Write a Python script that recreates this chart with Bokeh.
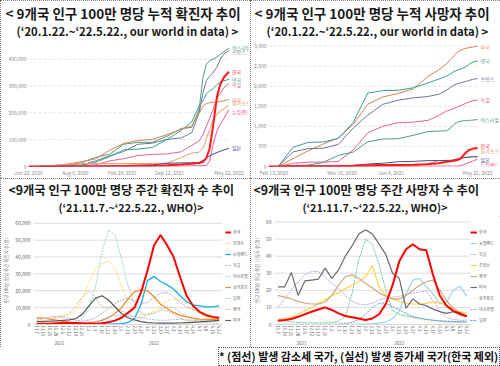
import pandas as pd
from bokeh.plotting import figure
from bokeh.models import (Title, Label, FixedTicker, NumeralTickFormatter, Legend,
                          LegendItem, Range1d, Div, Spacer, ColumnDataSource, LinearAxis)
from bokeh.layouts import column, row
from bokeh.embed import file_html
from bokeh.resources import INLINE

FONT = "Noto Sans CJK KR"

# ---------------- cumulative data (our world in data) ----------------
cum_dates = ["2020-01-22", "2020-03-01", "2020-05-01", "2020-07-01", "2020-09-01", "2020-11-01",
             "2021-01-01", "2021-03-01", "2021-05-01", "2021-07-01", "2021-09-01", "2021-11-01",
             "2021-12-15", "2022-01-15", "2022-02-01", "2022-02-15", "2022-03-01", "2022-03-15",
             "2022-04-01", "2022-04-15", "2022-05-01", "2022-05-22"]

cases_israel = [0, 1, 1800, 2700, 13000, 34000, 46000, 83000, 90000, 90500, 113000, 142000,
                145500, 212000, 333000, 381000, 395000, 400000, 408000, 418000, 428000, 442000]
cases_france = [0, 2, 2500, 3000, 4500, 21000, 40000, 56000, 83000, 87000, 101000, 107000,
                126000, 200000, 275000, 320000, 337000, 349000, 371000, 400000, 420000, 432000]
cases_korea = [0, 70, 210, 250, 390, 520, 1200, 1750, 2350, 3050, 4800, 7100,
               10500, 13200, 17000, 31000, 68000, 147000, 260000, 306000, 333000, 354000]
cases_uk = [0, 1, 2700, 4200, 5000, 15000, 37000, 62000, 65000, 71000, 101000, 135000,
            166000, 224000, 246000, 271000, 282000, 290000, 305000, 315000, 320000, 325000]
cases_germany = [0, 2, 2000, 2300, 2900, 6400, 21000, 29000, 41000, 45000, 47000, 55000,
                 79000, 95000, 118000, 151000, 180000, 210000, 252000, 273000, 295000, 310000]
cases_us = [0, 0, 3300, 8100, 18000, 28000, 61000, 86000, 97000, 101000, 119000, 139000,
            152000, 198000, 226000, 235000, 238000, 240000, 241000, 243000, 245000, 250000]
cases_singapore = [0, 19, 3100, 8000, 10400, 10600, 10700, 11000, 11200, 11500, 12500, 34000,
                   50000, 53000, 69000, 104000, 138000, 171000, 196000, 207000, 216000, 228000]
cases_nz = [0, 0, 290, 300, 340, 380, 420, 470, 520, 560, 600, 1100,
            2300, 2900, 3200, 4000, 20000, 80000, 133000, 157000, 180000, 212000]
cases_japan = [0, 2, 115, 150, 540, 800, 1900, 3400, 4700, 6300, 11900, 13700,
               13800, 15000, 23000, 32000, 39000, 46000, 52000, 57000, 62000, 68000]

deaths_us = [0, 0, 196, 390, 560, 710, 1055, 1550, 1730, 1820, 1930, 2245,
             2410, 2560, 2660, 2760, 2850, 2900, 2940, 2960, 2975, 3000]
deaths_uk = [0, 0, 480, 600, 610, 700, 1100, 1830, 1890, 1900, 1960, 2080,
             2180, 2250, 2310, 2370, 2400, 2430, 2470, 2540, 2600, 2630]
deaths_france = [0, 0, 365, 445, 455, 550, 960, 1280, 1550, 1650, 1710, 1745,
                 1800, 1900, 1975, 2030, 2065, 2090, 2115, 2140, 2170, 2190]
deaths_germany = [0, 0, 80, 108, 112, 126, 410, 840, 1000, 1090, 1105, 1150,
                  1270, 1380, 1415, 1450, 1485, 1515, 1570, 1605, 1635, 1660]
deaths_israel = [0, 0, 24, 35, 102, 275, 360, 615, 685, 690, 775, 870,
                 885, 890, 955, 1050, 1105, 1130, 1140, 1148, 1155, 1170]
deaths_korea = [0, 0.3, 5, 5.5, 6.3, 9, 17, 31, 35, 39, 45, 55,
                82, 120, 131, 142, 160, 205, 325, 405, 440, 462]
deaths_singapore = [0, 0, 3, 4.5, 5, 5, 5, 5, 5.5, 6.5, 10, 73,
                    147, 154, 156, 170, 193, 216, 229, 237, 242, 246]
deaths_japan = [0, 0, 4, 8, 10, 14, 27, 62, 81, 118, 127, 146,
                147, 147, 151, 163, 187, 207, 224, 232, 240, 245]
deaths_nz = [0, 0, 4, 4.4, 4.5, 5, 5, 5, 5, 5, 5.3, 5.9,
             8, 10, 10, 10, 11, 22, 60, 95, 130, 185]

cases_tick_dates = ["2020-01-22", "2020-08-08", "2021-02-24", "2021-09-12", "2022-05-22"]
cases_tick_labels = ["Jan 22, 2020", "Aug 8, 2020", "Feb 24, 2021", "Sep 12, 2021", "May 22, 2022"]
deaths_tick_dates = ["2020-02-13", "2020-11-16", "2021-06-04", "2022-05-22"]
deaths_tick_labels = ["Feb 13, 2020", "Nov 16, 2020", "Jun 4, 2021", "May 22, 2022"]
cases_yticks = [0, 100000, 200000, 300000, 400000]
deaths_yticks = [0, 500, 1000, 1500, 2000, 2500, 3000]

# ---------------- weekly data (WHO) ----------------
week_years = ["2021"] * 8 + ["2022"] * 21
week_labels = ["11.7", "11.14", "11.21", "11.28", "12.5", "12.12", "12.19", "12.26",
               "1.2", "1.9", "1.16", "1.23", "1.30", "2.6", "2.13", "2.20", "2.27",
               "3.6", "3.13", "3.20", "3.27", "4.3", "4.10", "4.17", "4.24",
               "5.1", "5.8", "5.15", "5.22"]

wc_korea = [300, 400, 500, 700, 900, 1000, 900, 700, 600, 500, 700, 1300, 2300, 4000, 7000,
            10000, 19000, 32000, 47000, 53000, 47000, 40000, 28000, 17000, 11000, 7500, 5500, 4500, 4000]
wc_france = [1000, 1500, 2800, 4500, 5500, 5700, 8000, 15000, 25000, 33000, 36000, 37500, 33000,
             23000, 14000, 9000, 6000, 6000, 8000, 11000, 14000, 15000, 14500, 12500, 9000, 6500,
             4500, 3500, 3000]
wc_nz = [200, 200, 200, 200, 200, 150, 100, 100, 100, 100, 150, 200, 300, 400, 1200, 3500,
         12000, 26000, 28500, 25500, 23500, 21000, 17000, 13500, 11500, 11000, 10500, 10500, 11000]
wc_germany = [2500, 3500, 4500, 5000, 4500, 3500, 2500, 2000, 2500, 4000, 6500, 9500, 12500,
              14500, 15500, 14000, 12500, 13000, 16000, 18500, 19000, 16500, 13000, 10500, 9000,
              7000, 5500, 4500, 3500]
wc_israel = [500, 400, 350, 400, 500, 700, 1200, 3500, 9000, 22000, 43000, 56000, 53000, 39000,
             23000, 12000, 7000, 5500, 6500, 9000, 10500, 10000, 7500, 5000, 3500, 2500, 2500,
             3000, 3500]
wc_singapore = [4000, 3800, 3200, 2600, 1900, 1300, 900, 800, 1000, 1500, 2500, 4000, 6500,
                10000, 15000, 19500, 20500, 20000, 16500, 12000, 9500, 7000, 5500, 4500, 3800,
                3200, 3000, 3000, 3200]
wc_japan = [50, 50, 50, 50, 50, 50, 100, 150, 300, 1200, 3000, 4500, 5200, 5500, 5000, 4300,
            3800, 3300, 2800, 2500, 2600, 2900, 3000, 2800, 2500, 2200, 2000, 1900, 1600]
wc_uk = [3700, 3600, 3700, 3800, 4500, 6500, 11000, 16500, 20000, 16000, 10500, 10000, 10000,
         8000, 6000, 4500, 4000, 5500, 7000, 8500, 8000, 6000, 3500, 2500, 2000, 1500, 1000, 800, 700]
wc_us = [1700, 1900, 2000, 2200, 2500, 2700, 3500, 6000, 11000, 15500, 17000, 14500, 10500, 6500,
         4000, 2700, 1700, 1100, 900, 800, 800, 800, 900, 1100, 1300, 1500, 1800, 2200, 2500]

wd_korea = [2.2, 2.6, 3.2, 4.5, 6, 7.5, 8.8, 10, 8.5, 6.5, 5, 4.3, 3.5, 2.6, 3.5, 6, 12, 23, 37,
            44, 47, 44, 43.5, 29, 17, 11, 8, 6, 4.8]
wd_nz = [0, 0, 0, 0, 0, 0, 0, 0, 0, 0, 0, 0, 0.2, 0.3, 0.5, 0.8, 1.5, 3.5, 8, 18, 26, 27, 22, 18,
         12, 13, 20, 22.5, 16.5]
wd_germany = [10, 15, 20, 25, 29, 31, 31, 28, 24, 21, 17, 13.5, 12, 11.5, 12.5, 14.5, 15.5, 16,
              16.5, 17.5, 18.5, 19, 19.5, 14, 8, 4, 3, 2.5, 2.5]
wd_france = [3, 3.5, 4.5, 6, 8, 10, 12.5, 14.5, 17, 18.5, 21, 23, 25, 28, 34.5, 22, 17, 15, 13.5,
             12.5, 12, 12, 12.5, 13, 13, 11, 9.5, 7.5, 6.5]
wd_uk = [17, 16, 15, 13.5, 12.5, 12, 12, 13, 17, 23, 28, 29, 27, 24, 21.5, 18.5, 16.5, 15, 15,
         17, 20, 23, 25, 26, 20, 14, 9.5, 6.5, 4.5]
wd_us = [22, 22, 30.5, 17, 25.5, 26, 26.5, 33, 27, 32, 40, 46, 53, 55.5, 53, 47, 41, 30, 27, 9.5,
         15, 12, 11, 9, 7.5, 6.5, 7.5, 7, 5]
wd_singapore = [19, 17, 15, 12, 9, 6, 4, 2.5, 1.5, 1, 1, 1, 1.5, 2.5, 3.5, 4.5, 5.5, 6, 5.5, 5,
                4, 3, 2, 1.5, 1, 1, 1, 1, 1]
wd_israel = [2.5, 2, 1.5, 1.2, 1, 1, 1, 1, 1, 2, 5, 18, 38, 50, 47, 35, 20, 8, 6, 5, 4.5, 4, 3,
             2.5, 2, 1.5, 1.5, 1.5, 1.5]
wd_japan = [0.1, 0.1, 0.1, 0.1, 0.1, 0.1, 0.1, 0.1, 0.1, 0.2, 0.5, 1.2, 3, 6, 10, 12.5, 12.5,
            10.5, 8.5, 6.5, 4.5, 3.5, 3, 2.5, 2.2, 2, 1.8, 1.6, 1.5]

weekly_cases_yticks = [0, 10000, 20000, 30000, 40000, 50000, 60000]
weekly_deaths_yticks = [0, 10, 20, 30, 40, 50, 60]

# ---------------- styling ----------------
BORDER = {"outline": "1px dotted #555555", "outline-offset": "-1px"}
PW = 250          # panel width
TOP_H = 178       # top row height
BOT_H = 169       # bottom row height
NOTE_H = 19       # footnote row height


def ms(d):
    return pd.Timestamp(d).value / 1e6


def no_ticks(ax):
    ax.major_tick_line_color = None
    ax.minor_tick_line_color = None
    ax.major_tick_out = 0
    ax.major_tick_in = 0
    ax.minor_tick_out = 0
    ax.minor_tick_in = 0


def add_titles(p, t1, t2, size1, size2, off1, off2):
    p.title.text = t1
    p.title.align = "left"
    p.title.offset = off1
    p.title.vertical_align = "bottom"
    p.title.text_font = FONT
    p.title.text_font_size = size1
    p.title.text_font_style = "bold"
    p.title.text_color = "#1a1a1a"
    p.title.text_line_height = 0.8
    p.title.standoff = 0
    p.add_layout(Title(text=t2, align="left", offset=off2, vertical_align="top", text_font=FONT,
                       text_font_size=size2, text_font_style="bold", text_color="#1a1a1a",
                       text_line_height=0.8, standoff=0), "above")


def top_panel(t1, t2, series, yend, yticks, tick_dates, tick_labels, min_left, min_bottom,
              pad_days, off1, off2):
    xs = pd.to_datetime(cum_dates)
    x_end = pd.Timestamp(cum_dates[-1]) + pd.Timedelta(days=pad_days)
    p = figure(width=PW, height=TOP_H, x_axis_type="datetime",
               x_range=Range1d(ms(cum_dates[0]), x_end.value / 1e6),
               y_range=Range1d(0, yend), output_backend="svg", toolbar_location=None,
               min_border_left=min_left, min_border_right=2, min_border_top=0,
               min_border_bottom=min_bottom)
    add_titles(p, t1, t2, "13.5px", "11.3px", off1, off2)
    p.styles = BORDER
    p.outline_line_color = None
    p.xgrid.grid_line_color = None
    p.ygrid.grid_line_color = None
    n = len(yticks)
    p.segment(x0=[xs[0]] * n, x1=[xs[-1]] * n, y0=yticks, y1=yticks,
              line_color="#e3e3e3", line_dash="3 2", line_width=1)
    p.yaxis.ticker = FixedTicker(ticks=yticks)
    p.yaxis.formatter = NumeralTickFormatter(format="0,0")
    p.xaxis.ticker = FixedTicker(ticks=[ms(d) for d in tick_dates])
    p.xaxis.major_label_overrides = {ms(d): lab for d, lab in zip(tick_dates, tick_labels)}
    for ax in (p.xaxis[0], p.yaxis[0]):
        ax.axis_line_color = None
        no_ticks(ax)
        ax.major_label_text_font = FONT
        ax.major_label_text_font_size = "5px"
        ax.major_label_text_color = "#8a8a8a"
        ax.major_label_standoff = 2
    for name, vals, color, width, off in series:
        p.line(xs, vals, line_color=color, line_width=width)
        p.add_layout(Label(x=ms(cum_dates[-1]), y=vals[-1], x_offset=3, y_offset=off, text=name,
                           text_font=FONT, text_font_size="5px", text_color=color,
                           text_baseline="middle"))
    return p


C_IL, C_FR, C_KR, C_UK = "#4f9e72", "#6b7896", "#ff1a1a", "#3a9e94"
C_DE, C_US, C_SG, C_NZ, C_JP = "#e0609a", "#d4825c", "#e59a6a", "#f2568f", "#3f4f86"

p1 = top_panel("< 9개국 인구 100만 명당 누적 확진자 추이",
               "(‘20.1.22.~‘22.5.22., our world in data) >",
               [("이스라엘", cases_israel, C_IL, 1, 1),
                ("프랑스", cases_france, C_FR, 1, -1),
                ("영국", cases_uk, C_UK, 1, 0),
                ("독일", cases_germany, C_DE, 1, -1),
                ("미국", cases_us, C_US, 1, 0),
                ("싱가포르", cases_singapore, C_SG, 1, 3),
                ("뉴질랜드", cases_nz, C_NZ, 1, -2),
                ("일본", cases_japan, C_JP, 1, 1),
                ("한국", cases_korea, C_KR, 2, 0)],
               470000, cases_yticks, cases_tick_dates, cases_tick_labels, 28, 11, 83, -23, -12)

p2 = top_panel("< 9개국 인구 100만 명당 누적 사망자 추이",
               "(‘20.1.22.~‘22.5.22., our world in data) >",
               [("미국", deaths_us, C_US, 1, 0),
                ("영국", deaths_uk, C_UK, 1, 0),
                ("프랑스", deaths_france, C_FR, 1, 0),
                ("독일", deaths_germany, C_DE, 1, 0),
                ("이스라엘", deaths_israel, C_IL, 1, 0),
                ("싱가포르", deaths_singapore, C_SG, 1, 6),
                ("일본", deaths_japan, C_JP, 1, -3),
                ("뉴질랜드", deaths_nz, C_NZ, 1, -5),
                ("한국", deaths_korea, C_KR, 2, 2)],
               3140, deaths_yticks, deaths_tick_dates, deaths_tick_labels, 18, 10, 85, -14, -2)


def bottom_panel(t1, t2, series, yend, yticks, ylabel, min_left, pad_units, leg_x, leg_y,
                 glyph_w, off1, off2):
    idx = list(range(len(week_labels)))
    n = len(idx)
    p = figure(width=PW, height=BOT_H,
               x_range=Range1d(-0.5, n - 0.5 + pad_units),
               y_range=Range1d(0, yend), output_backend="svg", toolbar_location=None,
               min_border_left=min_left, min_border_right=0, min_border_top=0,
               min_border_bottom=0)
    add_titles(p, t1, t2, "12.3px", "10.8px", off1, off2)
    p.styles = BORDER
    p.outline_line_color = None
    p.xgrid.grid_line_color = None
    p.ygrid.grid_line_color = None
    m = len(yticks)
    p.segment(x0=[idx[0] - 0.5] * m, x1=[idx[-1] + 0.5] * m, y0=yticks, y1=yticks,
              line_color="#dcdcdc", line_width=1)
    ya = p.yaxis[0]
    ya.ticker = FixedTicker(ticks=yticks)
    ya.formatter = NumeralTickFormatter(format="0,0")
    ya.axis_line_color = None
    no_ticks(ya)
    ya.major_label_text_font = FONT
    ya.major_label_text_font_size = "5px"
    ya.major_label_text_color = "#666666"
    ya.major_label_standoff = 3
    ya.axis_label = ylabel
    ya.axis_label_text_font = FONT
    ya.axis_label_text_font_size = "4.5px"
    ya.axis_label_text_font_style = "normal"
    ya.axis_label_text_color = "#777777"
    ya.axis_label_standoff = 3
    xa = p.xaxis[0]
    xa.ticker = FixedTicker(ticks=idx)
    xa.major_label_overrides = {i: lab for i, lab in zip(idx, week_labels)}
    xa.bounds = (idx[0] - 0.5, idx[-1] + 0.5)
    xa.axis_line_color = "#d9d9d9"
    no_ticks(xa)
    xa.axis_label_standoff = 0
    xa.major_label_orientation = "vertical"
    xa.major_label_text_font = FONT
    xa.major_label_text_font_size = "4.3px"
    xa.major_label_text_color = "#666666"
    xa.major_label_text_line_height = 0.8
    xa.major_label_standoff = 1
    # year group labels
    groups = []
    for y in week_years:
        if y not in groups:
            groups.append(y)
    centers = []
    for g in groups:
        pos = [i for i, y in zip(idx, week_years) if y == g]
        centers.append(sum(pos) / len(pos))
    yr = LinearAxis(ticker=FixedTicker(ticks=centers),
                    major_label_overrides={c: g for c, g in zip(centers, groups)},
                    axis_line_color=None, major_label_text_font=FONT,
                    major_label_text_font_size="4.5px", major_label_text_color="#666666",
                    major_label_text_line_height=0.8, major_label_standoff=1,
                    axis_label_standoff=0)
    no_ticks(yr)
    p.add_layout(yr, "below")
    items = []
    renderers = []
    for name, vals, color, width, dash in series:
        src = ColumnDataSource(data=dict(x=idx, y=vals))
        r = p.line("x", "y", source=src, line_color=color, line_width=width, line_dash=dash)
        renderers.append(r)
        items.append(LegendItem(label=name, renderers=[r]))
    # draw Korea on top
    p.renderers = p.renderers[:1] + renderers[1:] + renderers[:1]
    leg = Legend(items=items, location=(leg_x, leg_y), orientation="vertical",
                 glyph_width=glyph_w, glyph_height=6, label_height=6, label_standoff=2,
                 spacing=5, padding=0, margin=0,
                 label_text_font=FONT, label_text_font_size="4px",
                 label_text_color="#555555", border_line_color=None,
                 background_fill_alpha=0)
    p.add_layout(leg)
    return p


p3 = bottom_panel("<9개국 인구 100만 명당 주간 확진자 수 추이",
                  "(‘21.11.7.~‘22.5.22., WHO)>",
                  [("한국", wc_korea, "#ff0000", 2, "solid"),
                   ("프랑스", wc_france, "#ffd966", 1, "2 1"),
                   ("뉴질랜드", wc_nz, "#14aee6", 1.3, "solid"),
                   ("독일", wc_germany, "#b4a7d6", 1, "2 1"),
                   ("이스라엘", wc_israel, "#9ed8b6", 1, "2 1"),
                   ("싱가포르", wc_singapore, "#f08c2c", 1.3, "solid"),
                   ("일본", wc_japan, "#9dc3e6", 1, "2 1"),
                   ("영국", wc_uk, "#ddbb94", 1, "2 1"),
                   ("미국", wc_us, "#595959", 1.2, "solid")],
                  64000, weekly_cases_yticks, "인구 100만 명당 주간 확진자 수(명)", 28, 4.3,
                  192, 1, 6, -25, 25)

p4 = bottom_panel("<9개국 인구 100만 명당 주간 사망자 수 추이",
                  "(‘21.11.7.~‘22.5.22., WHO)>",
                  [("한국", wd_korea, "#ff0000", 2, "solid"),
                   ("뉴질랜드", wd_nz, "#9dd6e8", 1.2, "solid"),
                   ("독일", wd_germany, "#b4a7d6", 1, "2 1"),
                   ("프랑스", wd_france, "#ffd44d", 1.2, "solid"),
                   ("영국", wd_uk, "#cda986", 1.2, "solid"),
                   ("미국", wd_us, "#6b6b6b", 1.2, "solid"),
                   ("싱가포르", wd_singapore, "#f1dcc6", 1, "2 1"),
                   ("이스라엘", wd_israel, "#6cc490", 1, "2 1"),
                   ("일본", wd_japan, "#5b9bd5", 1, "2 1")],
                  63.2, weekly_deaths_yticks, "인구 100만 명당 주간 사망자 수(명)", 24, 4.5,
                  196, 1, 7, -21, 28)

note = Div(text="* (점선) 발생 감소세 국가, (실선) 발생 증가세 국가(한국 제외)",
           width=282, height=NOTE_H, margin=0,
           styles={"font-family": FONT, "font-size": "11px", "font-weight": "bold",
                   "line-height": "19px", "white-space": "nowrap", "color": "#111111",
                   "outline": "1px dotted #555555", "outline-offset": "-1px",
                   "padding-left": "1px", "box-sizing": "border-box"})

layout = column(row(p1, p2), row(p3, p4),
                row(Spacer(width=2 * PW - 282, height=NOTE_H, margin=0), note))

open("out.html", "w").write(file_html(layout, INLINE))
